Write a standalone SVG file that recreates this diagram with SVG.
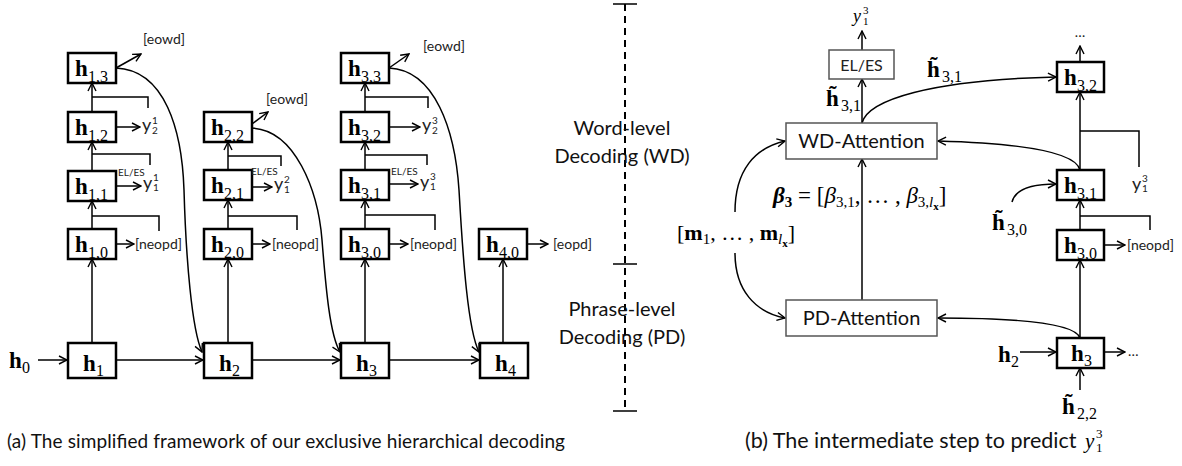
<svg xmlns="http://www.w3.org/2000/svg" width="1182" height="466" viewBox="0 0 1182 466">
<defs>
<marker id="ah" viewBox="0 0 10 10" refX="9" refY="5" markerWidth="10" markerHeight="10" markerUnits="userSpaceOnUse" orient="auto"><path d="M1,1 L9,5 L1,9" fill="none" stroke="#000" stroke-width="1.4"/></marker>
<style>
.box{fill:#fff;stroke:#000;stroke-width:2.5}
.rbox{fill:#fff;stroke:#555;stroke-width:1.5}
.ln{fill:none;stroke:#000;stroke-width:1.5}
.ar{fill:none;stroke:#000;stroke-width:1.5;marker-end:url(#ah)}
.dash{fill:none;stroke:#000;stroke-width:2;stroke-dasharray:7 5}
.h{font-family:"Liberation Serif",serif;font-weight:bold;font-size:23px}
.s{font-family:"Liberation Serif",serif;font-size:16px}
.sm{font-family:"Liberation Serif",serif;font-size:11px}
.lbl{font-family:Lato,"Open Sans",sans-serif;font-size:14px;fill:#222}
.el{font-family:Lato,"Open Sans",sans-serif;font-size:10px;fill:#222}
.yv{font-family:Lato,"Open Sans",sans-serif;font-size:18px;fill:#222}
.ys{font-family:Lato,"Open Sans",sans-serif;font-size:10px;fill:#222}
.big{font-family:Lato,"Open Sans",sans-serif;font-size:20px;fill:#111}
.cap{font-family:Lato,"Open Sans",sans-serif;font-size:19px;fill:#111}
.mi{font-family:"Liberation Serif",serif;font-style:italic;font-size:18px}
.m{font-family:"Liberation Serif",serif;font-size:22px}
.mb{font-family:"Liberation Serif",serif;font-size:22px;font-weight:bold}
</style>
</defs>
<rect width="1182" height="466" fill="#fff"/>

<!-- connectors -->
<g id="connectors">
<path class="ar" d="M92,343 V259"/><path class="ar" d="M92,229 V201"/><path class="ar" d="M92,171 V142"/><path class="ar" d="M92,112 V83"/>
<path class="ar" d="M228,343 V259"/><path class="ar" d="M228,229 V200"/><path class="ar" d="M228,170 V142"/>
<path class="ar" d="M365,343 V259"/><path class="ar" d="M365,229 V200"/><path class="ar" d="M365,170 V142"/><path class="ar" d="M365,112 V83"/>
<path class="ar" d="M503,343 V259"/>
<path class="ln" d="M92,216 H159 V231"/><path class="ln" d="M92,154 H150 V165"/><path class="ln" d="M92,97 H148 V108"/>
<path class="ln" d="M228,216 H297 V230"/><path class="ln" d="M228,156 H281 V166"/>
<path class="ln" d="M365,215 H435 V230"/><path class="ln" d="M365,155 H427 V165"/><path class="ln" d="M365,97 H428 V108"/>
<path class="ar" d="M116,244 H134"/><path class="ar" d="M116,186 H141"/><path class="ar" d="M116,127 H140"/><path class="ar" d="M116,68 L141,54"/>
<path class="ar" d="M252,244 H270"/><path class="ar" d="M252,187 H272"/><path class="ar" d="M252,124 L268,112"/>
<path class="ar" d="M389,244 H408"/><path class="ar" d="M389,184 H418"/><path class="ar" d="M389,127 H420"/><path class="ar" d="M389,68 L409,54"/>
<path class="ar" d="M527,244 H548"/>
<path class="ar" d="M38,360 H67"/><path class="ar" d="M116,360 H203"/><path class="ar" d="M252,360 H340"/><path class="ar" d="M389,360 H479"/>
<path class="ar" d="M116,68 C165,70 182,130 184,190 C186,260 192,330 202,352"/>
<path class="ar" d="M252,128 C295,130 318,190 322,240 C326,290 330,335 340,352"/>
<path class="ar" d="M389,68 C435,70 455,130 459,190 C463,260 468,330 479,352"/>

<path class="dash" d="M625,4 V411"/>
<path class="ln" d="M613,4 H637 M613,264 H637 M613,411 H637" stroke-width="2"/>

<path class="ar" d="M862,50 V31"/>
<path class="ar" d="M862,123 V79"/>
<path class="ar" d="M862,300 V159"/>
<path class="ar" d="M862,123 C868,100 930,80 1056,77"/>
<path class="ar" d="M735,212 C735,170 755,148 785,141"/>
<path class="ar" d="M735,253 C735,290 755,312 785,318"/>
<path class="ar" d="M1080,62 V46"/>
<path class="ar" d="M1080,170 V92"/>
<path class="ln" d="M1080,131 H1139 V167"/>
<path class="ar" d="M1080,170 C1075,150 1010,143 938,141"/>
<path class="ar" d="M1012,202 C1015,190 1030,184 1056,184"/>
<path class="ar" d="M1080,230 V200"/>
<path class="ln" d="M1080,216 H1150 V230"/>
<path class="ar" d="M1104,245 H1125"/>
<path class="ar" d="M1080,338 V260"/>
<path class="ar" d="M1080,338 C1075,322 1010,318 938,318"/>
<path class="ar" d="M1020,352 H1056"/>
<path class="ar" d="M1104,352 H1125"/>
<path class="ar" d="M1080,390 V368"/>
</g>

<g id="h13"><rect class="box" x="68" y="53" width="48" height="30"/><text class="h" x="75" y="76">h</text><text class="s" x="88" y="81.5">1,3</text></g>
<g id="h12"><rect class="box" x="68" y="112" width="48" height="30"/><text class="h" x="75" y="135">h</text><text class="s" x="88" y="140.5">1,2</text></g>
<g id="h11"><rect class="box" x="68" y="171" width="48" height="30"/><text class="h" x="75" y="194">h</text><text class="s" x="88" y="199.5">1,1</text></g>
<g id="h10"><rect class="box" x="68" y="229" width="48" height="30"/><text class="h" x="75" y="252">h</text><text class="s" x="88" y="257.5">1,0</text></g>
<g id="h1"><rect class="box" x="68" y="343" width="48" height="35"/><text class="h" x="83" y="371">h</text><text class="s" x="96" y="376">1</text></g>
<g id="h22"><rect class="box" x="204" y="112" width="48" height="30"/><text class="h" x="211" y="135">h</text><text class="s" x="224" y="140.5">2,2</text></g>
<g id="h21"><rect class="box" x="204" y="170" width="48" height="30"/><text class="h" x="211" y="193">h</text><text class="s" x="224" y="198.5">2,1</text></g>
<g id="h20"><rect class="box" x="204" y="229" width="48" height="30"/><text class="h" x="211" y="252">h</text><text class="s" x="224" y="257.5">2,0</text></g>
<g id="h2"><rect class="box" x="204" y="343" width="48" height="35"/><text class="h" x="219" y="371">h</text><text class="s" x="232" y="376">2</text></g>
<g id="h33"><rect class="box" x="341" y="53" width="48" height="30"/><text class="h" x="348" y="76">h</text><text class="s" x="361" y="81.5">3,3</text></g>
<g id="h32"><rect class="box" x="341" y="112" width="48" height="30"/><text class="h" x="348" y="135">h</text><text class="s" x="361" y="140.5">3,2</text></g>
<g id="h31"><rect class="box" x="341" y="170" width="48" height="30"/><text class="h" x="348" y="193">h</text><text class="s" x="361" y="198.5">3,1</text></g>
<g id="h30"><rect class="box" x="341" y="229" width="48" height="30"/><text class="h" x="348" y="252">h</text><text class="s" x="361" y="257.5">3,0</text></g>
<g id="h3"><rect class="box" x="341" y="343" width="48" height="35"/><text class="h" x="356" y="371">h</text><text class="s" x="369" y="376">3</text></g>
<g id="h40"><rect class="box" x="479" y="229" width="48" height="30"/><text class="h" x="486" y="252">h</text><text class="s" x="499" y="257.5">4,0</text></g>
<g id="h4"><rect class="box" x="480" y="343" width="48" height="35"/><text class="h" x="495" y="371">h</text><text class="s" x="508" y="376">4</text></g>
<g id="h0"><text class="h" x="9" y="368">h</text><text class="s" x="22" y="373">0</text></g>

<g id="left-labels">
<text class="lbl" x="143" y="44">[eowd]</text>
<text class="yv" x="142" y="131">y</text><text class="ys" x="152" y="124">1</text><text class="ys" x="152" y="134">2</text>
<text class="el" x="118" y="176">EL/ES</text>
<text class="yv" x="143" y="189">y</text><text class="ys" x="153" y="181">1</text><text class="ys" x="153" y="191">1</text>
<text class="lbl" x="135" y="249">[neopd]</text>
<text class="lbl" x="266" y="104">[eowd]</text>
<text class="el" x="251" y="175">EL/ES</text>
<text class="yv" x="274" y="190">y</text><text class="ys" x="284" y="183">2</text><text class="ys" x="284" y="193">1</text>
<text class="lbl" x="272" y="249">[neopd]</text>
<text class="lbl" x="423" y="51">[eowd]</text>
<text class="yv" x="422" y="131">y</text><text class="ys" x="432" y="124">3</text><text class="ys" x="432" y="134">2</text>
<text class="el" x="391" y="175">EL/ES</text>
<text class="yv" x="420" y="188">y</text><text class="ys" x="430" y="180">3</text><text class="ys" x="430" y="190">1</text>
<text class="lbl" x="410" y="249">[neopd]</text>
<text class="lbl" x="553" y="249">[eopd]</text>
</g>

<g id="wd-label"><text class="big" x="622" y="135" text-anchor="middle">Word-level</text><text class="big" x="622" y="163" text-anchor="middle">Decoding (WD)</text></g>
<g id="pd-label"><text class="big" x="622" y="316" text-anchor="middle">Phrase-level</text><text class="big" x="622" y="344" text-anchor="middle">Decoding (PD)</text></g>

<g id="eles"><rect class="rbox" x="829" y="50" width="65" height="29"/><text class="lbl" x="861.5" y="71" text-anchor="middle" style="font-size:16px">EL/ES</text></g>
<g id="y13top"><text class="mi" x="853" y="22">y</text><text class="sm" x="863" y="14">3</text><text class="sm" x="863" y="25">1</text></g>
<g id="wd"><rect class="rbox" x="786" y="123" width="151" height="36"/><text class="big" x="861.5" y="148" text-anchor="middle">WD-Attention</text></g>
<g id="pd"><rect class="rbox" x="786" y="300" width="151" height="36"/><text class="big" x="861.5" y="325" text-anchor="middle">PD-Attention</text></g>
<g id="ht31a"><text class="h" x="826" y="106">h&#x303;</text><text class="s" x="841" y="111">3,1</text></g>
<g id="ht31b"><text class="h" x="927" y="77">h&#x303;</text><text class="s" x="942" y="82">3,1</text></g>
<g id="ht30"><text class="h" x="992" y="230">h&#x303;</text><text class="s" x="1007" y="235">3,0</text></g>
<g id="ht22"><text class="h" x="1062" y="414">h&#x303;</text><text class="s" x="1077" y="419">2,2</text></g>
<g id="r-h2"><text class="h" x="998" y="362">h</text><text class="s" x="1011" y="367">2</text></g>
<g id="r-h32"><rect class="box" x="1057" y="62" width="47" height="30"/><text class="h" x="1064" y="85">h</text><text class="s" x="1077" y="90.5">3,2</text></g>
<g id="r-h31"><rect class="box" x="1057" y="170" width="47" height="30"/><text class="h" x="1064" y="193">h</text><text class="s" x="1077" y="198.5">3,1</text></g>
<g id="r-h30"><rect class="box" x="1057" y="230" width="47" height="30"/><text class="h" x="1064" y="253">h</text><text class="s" x="1077" y="258.5">3,0</text></g>
<g id="r-h3"><rect class="box" x="1057" y="338" width="47" height="30"/><text class="h" x="1071" y="361">h</text><text class="s" x="1084" y="366">3</text></g>
<g id="r-labels">
<text class="lbl" x="1080" y="37" text-anchor="middle">…</text>
<text class="lbl" x="1128" y="356">…</text>
<text class="lbl" x="1127" y="250">[neopd]</text>
<text class="yv" x="1132" y="190">y</text><text class="ys" x="1142" y="182">3</text><text class="ys" x="1142" y="192">1</text>
</g>
<g id="mem"><text class="m" x="677" y="240">[<tspan class="mb">m</tspan><tspan font-size="15" dy="4">1</tspan><tspan dy="-4">, … , </tspan><tspan class="mb">m</tspan><tspan font-size="15" font-style="italic" dy="4">l</tspan><tspan font-size="11" font-weight="bold" dy="3">x</tspan><tspan dy="-7">]</tspan></text></g>
<g id="beta"><text class="m" x="773" y="203" style="font-size:23px"><tspan font-weight="bold" font-style="italic">β</tspan><tspan font-size="15" font-weight="bold" dy="4">3</tspan><tspan dy="-4"> = [</tspan><tspan font-style="italic">β</tspan><tspan font-size="15" dy="4">3,1</tspan><tspan dy="-4">, … , </tspan><tspan font-style="italic">β</tspan><tspan font-size="15" dy="4">3,</tspan><tspan font-size="15" font-style="italic">l</tspan><tspan font-size="11" font-weight="bold" dy="3">x</tspan><tspan dy="-7">]</tspan></text></g>

<g id="captions">
<text class="cap" x="7" y="448" textLength="558">(a) The simplified framework of our exclusive hierarchical decoding</text>
<text class="cap" x="745" y="448" style="font-size:21.5px">(b) The intermediate step to predict</text>
<text class="mi" x="1085" y="448" style="font-size:21px">y</text><text class="sm" x="1096" y="438" style="font-size:13px">3</text><text class="sm" x="1096" y="452" style="font-size:13px">1</text>
</g>
</svg>
